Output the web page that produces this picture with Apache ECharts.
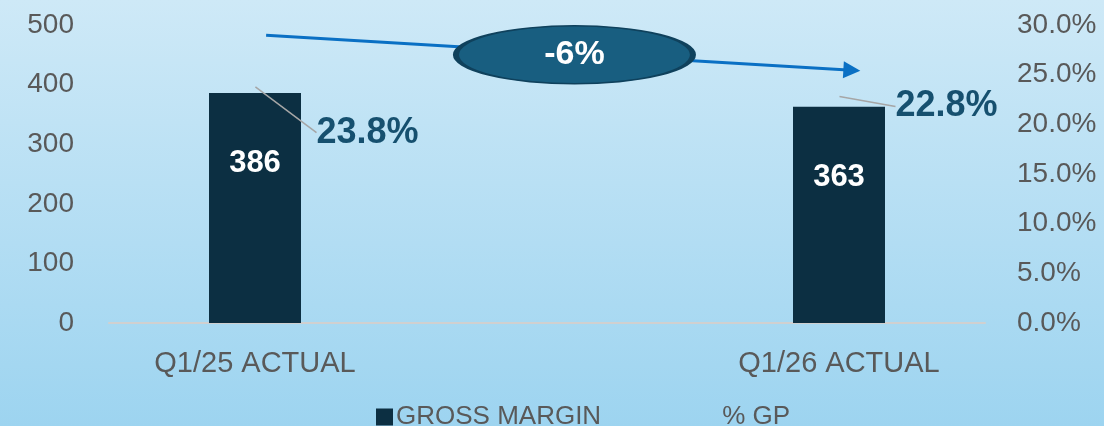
<!DOCTYPE html>
<html>
<head>
<meta charset="utf-8">
<style>
  html, body { margin: 0; padding: 0; }
  #main { width: 1104px; height: 426px; }
</style>
<script src="https://cdn.jsdelivr.net/npm/echarts@6/dist/echarts.min.js"></script>
</head>
<body>
<div id="main"></div>
<script>
var categories = ['Q1/25 ACTUAL', 'Q1/26 ACTUAL'];
var grossMargin = [386, 363];
var gpPercent = [23.8, 22.8];
var leftTicks = [0, 500, 100];
var rightTicks = [0, 30, 5];

var change = Math.round((grossMargin[1] - grossMargin[0]) / grossMargin[0] * 100);

var textGray = '#595959';
var font = "'Liberation Sans', Arial, sans-serif";

var myChart = echarts.init(document.getElementById('main'));

var option = {
    backgroundColor: new echarts.graphic.LinearGradient(0, 0, 0, 1, [
        { offset: 0, color: '#cee9f7' },
        { offset: 1, color: '#9dd4f0' }
    ]),
    textStyle: { fontFamily: font },
    animation: false,
    grid: { left: 109, right: 119, top: 25, bottom: 103 },
    legend: {
        top: 399,
        left: 371,
        itemGap: 100,
        itemWidth: 17,
        itemHeight: 17,
        textStyle: { color: textGray, fontSize: 26, fontFamily: font, padding: [0, 0, 0, -2] },
        data: [
            { name: 'GROSS MARGIN', icon: 'rect' },
            { name: '% GP' }
        ]
    },
    xAxis: {
        type: 'value',
        min: -0.25,
        max: 1.25,
        interval: 0.25,
        splitLine: { show: false },
        axisTick: { show: false },
        axisLine: { show: true, onZero: false, lineStyle: { color: '#d0d0d0', width: 2 } },
        axisLabel: {
            color: textGray,
            fontSize: 29,
            margin: 26,
            showMinLabel: true,
            showMaxLabel: true,
            formatter: function (v) {
                var i = Math.round(v);
                return (Math.abs(v - i) < 1e-6 && categories[i]) ? categories[i] : '';
            }
        }
    },
    yAxis: [
        {
            type: 'value',
            min: leftTicks[0],
            max: leftTicks[1],
            interval: leftTicks[2],
            splitLine: { show: false },
            axisLine: { show: false },
            axisTick: { show: false },
            axisLabel: { color: textGray, fontSize: 28, margin: 35 }
        },
        {
            type: 'value',
            min: rightTicks[0],
            max: rightTicks[1],
            interval: rightTicks[2],
            splitLine: { show: false },
            axisLine: { show: false },
            axisTick: { show: false },
            axisLabel: {
                color: textGray, fontSize: 28, margin: 32,
                formatter: function (v) { return v.toFixed(1) + '%'; }
            }
        }
    ],
    series: [
        {
            name: 'GROSS MARGIN',
            type: 'bar',
            barWidth: 92,
            data: grossMargin.map(function (v, i) { return [i, v]; }),
            itemStyle: { color: '#0c2f42' },
            label: {
                show: true,
                position: 'insideTop',
                distance: 55,
                color: '#ffffff',
                fontSize: 31,
                fontWeight: 'bold',
                formatter: function (p) { return p.value[1]; }
            },
            markLine: {
                silent: true,
                symbol: ['none', 'triangle'],
                symbolSize: [17, 17],
                label: { show: false },
                lineStyle: { color: '#0a70c4', width: 3, type: 'solid' },
                data: [[
                    { coord: [0.019, 483] },
                    { coord: [1.022, 424] }
                ]]
            },
            markPoint: {
                silent: true,
                symbol: 'circle',
                symbolSize: [237, 58],
                itemStyle: { color: '#185e80', borderColor: '#0f415c', borderWidth: 3 },
                label: {
                    show: true,
                    color: '#ffffff',
                    fontSize: 34,
                    fontWeight: 'bold',
                    formatter: change + '%'
                },
                data: [{ coord: [0.547, 450] }]
            }
        },
        {
            name: '% GP',
            type: 'line',
            yAxisIndex: 1,
            symbol: 'circle',
            symbolSize: 1,
            itemStyle: { color: 'rgba(0,0,0,0)' },
            lineStyle: { opacity: 0 },
            data: gpPercent.map(function (v, i) { return [i, v]; }),
            label: {
                show: true,
                position: 'right',
                distance: 0,
                color: '#16506f',
                fontSize: 36,
                fontWeight: 'bold',
                formatter: function (p) { return p.value[1].toFixed(1) + '%'; }
            },
            labelLine: {
                show: true,
                lineStyle: { color: '#a6a6a6', width: 1.5 }
            },
            labelLayout: function (p) {
                return p.dataIndex === 0 ? { dx: 61, dy: 46 } : { dx: 56, dy: 10 };
            }
        }
    ]
};

myChart.setOption(option);
</script>
</body>
</html>
